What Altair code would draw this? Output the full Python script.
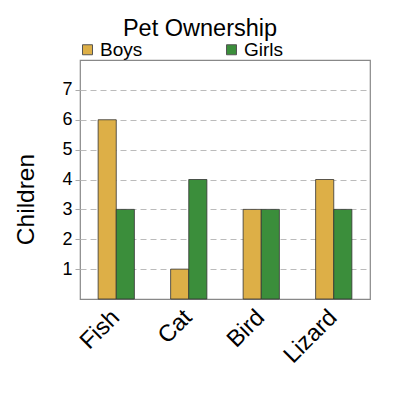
import altair as alt
import pandas as pd

pets = ["Fish", "Cat", "Bird", "Lizard"]
boys = [6, 1, 3, 4]
girls = [3, 4, 3, 3]
groups = ["Boys", "Girls"]
colors = ["#DDAF47", "#3B8E3B"]

rows = []
for p, b, g in zip(pets, boys, girls):
    rows.append({"pet": p, "group": "Boys", "count": b})
    rows.append({"pet": p, "group": "Girls", "count": g})
df = pd.DataFrame(rows)

font = "Liberation Sans"

chart = alt.Chart(df).mark_bar(stroke="#333333", strokeWidth=0.8).encode(
    x=alt.X("pet:N", sort=pets,
            scale=alt.Scale(paddingInner=0.5, paddingOuter=0.25),
            axis=alt.Axis(title=None, labelAngle=-45, labelFontSize=23.5, labelFont=font,
                          labelColor="black", ticks=False, domain=False, labelPadding=6,
                          labelOffset=-9)),
    xOffset=alt.XOffset("group:N", sort=groups, scale=alt.Scale(paddingInner=0, paddingOuter=0)),
    y=alt.Y("count:Q", scale=alt.Scale(domain=[0, 8], nice=False),
            axis=alt.Axis(title="Children", titleFontSize=24.5, titleFont=font, titleFontWeight="normal",
                          titleColor="black", titleX=-54, titleY=139, titleBaseline="middle",
                          titleAlign="center", titleAngle=270,
                          values=[1, 2, 3, 4, 5, 6, 7], labelFontSize=18, labelFont=font,
                          labelColor="black", tickColor="#aaaaaa", tickSize=5, tickDash=[5, 4],
                          domain=False, gridDash=[6, 4], gridColor="#bbbbbb", labelPadding=3)),
    color=alt.Color("group:N", sort=groups, scale=alt.Scale(domain=groups, range=colors),
                    legend=alt.Legend(title=None, orient="none", legendX=-2, legendY=-20,
                                      direction="horizontal", columns=2, columnPadding=79,
                                      symbolType="square", symbolSize=100, symbolStrokeColor="#555555",
                                      symbolStrokeWidth=1, labelFontSize=19, labelFont=font,
                                      labelColor="black", labelOffset=3)),
).properties(
    width=290, height=239,
    title=alt.Title("Pet Ownership", fontSize=23.5, font=font, fontWeight="normal", color="black",
                    anchor="middle", dx=-25, offset=0),
    autosize=alt.AutoSizeParams(type="none"),
    padding={"left": 72, "top": 52, "right": 22, "bottom": 93},
).configure_view(stroke="#888888", strokeWidth=1.2)

chart.save("out.html", embed_options={"renderer": "svg", "actions": False})
